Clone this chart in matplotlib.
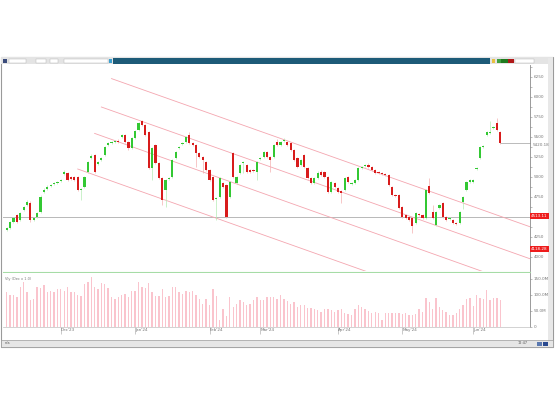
import matplotlib
matplotlib.use("Agg")
import matplotlib.pyplot as plt
from matplotlib.patches import Rectangle

# ---- daily candles (index order)
opens = [4338, 4362, 4438, 4525, 4462, 4588, 4650, 4675, 4462, 4500,
         4562, 4812, 4850, 4888, 4912, 4925, 4950, 5038, 5050, 5000,
         5000, 5000, 4838, 4875, 5062, 5238, 5275, 5162, 5212, 5275,
         5400, 5425, 5438, 5450, 5500, 5525, 5438, 5362, 5488, 5588,
         5700, 5650, 5562, 5112, 5400, 5175, 4988, 4838, 4975, 5000,
         5238, 5362, 5412, 5438, 5525, 5425, 5400, 5300, 5250, 5188,
         5088, 5000, 4725, 4750, 4925, 4900, 4750, 5300, 4925, 5050,
         5175, 5150, 5088, 5088, 5062, 5225, 5250, 5312, 5250, 5250,
         5438, 5400, 5450, 5438, 5425, 5338, 5238, 5150, 5275, 5112,
         4988, 4925, 4988, 5062, 5062, 5000, 4812, 4925, 4862, 4825,
         4838, 5000, 4912, 4925, 4962, 5112, 5138, 5150, 5125, 5088,
         5062, 5050, 5038, 5025, 4875, 4775, 4775, 4625, 4525, 4500,
         4488, 4425, 4538, 4525, 4488, 4888, 4562, 4400, 4612, 4675,
         4500, 4475, 4462, 4425, 4425, 4688, 4838, 4938, 4938, 5100,
         5238, 5375, 5525, 5550, 5612, 5675, 5562]
highs = [4380, 4450, 4500, 4540, 4565, 4640, 4712, 4700, 4500, 4562,
         4775, 4862, 4900, 4912, 4940, 4950, 4975, 5088, 5062, 5012,
         5012, 5012, 4862, 5012, 5200, 5288, 5288, 5200, 5250, 5388,
         5438, 5450, 5462, 5475, 5538, 5540, 5450, 5500, 5590, 5690,
         5712, 5662, 5575, 5375, 5412, 5188, 5000, 4975, 5000, 5225,
         5325, 5388, 5438, 5512, 5562, 5438, 5412, 5312, 5262, 5200,
         5100, 5012, 4750, 5000, 4938, 4912, 4950, 5312, 5012, 5162,
         5200, 5162, 5100, 5100, 5200, 5250, 5325, 5325, 5262, 5412,
         5475, 5450, 5488, 5450, 5438, 5350, 5250, 5225, 5288, 5125,
         5000, 5000, 5075, 5088, 5075, 5012, 4950, 4938, 4875, 4838,
         5000, 5012, 4938, 4975, 5125, 5138, 5162, 5175, 5138, 5100,
         5075, 5062, 5050, 5038, 4888, 4788, 4788, 4638, 4538, 4512,
         4500, 4562, 4550, 4538, 4850, 4988, 4650, 4575, 4662, 4688,
         4512, 4500, 4475, 4438, 4575, 4762, 4950, 4975, 4975, 5125,
         5388, 5400, 5575, 5700, 5638, 5738, 5575]
lows = [4320, 4350, 4425, 4425, 4450, 4575, 4640, 4438, 4450, 4488,
        4550, 4800, 4838, 4875, 4900, 4910, 4938, 5025, 4950, 4962,
        4950, 4825, 4712, 4862, 5050, 5225, 5050, 5150, 5200, 5262,
        5388, 5412, 5425, 5425, 5488, 5425, 5338, 5350, 5475, 5575,
        5638, 5512, 5100, 4962, 5162, 4975, 4650, 4625, 4962, 4988,
        5225, 5350, 5400, 5425, 5412, 5388, 5125, 5238, 5050, 5075,
        4950, 4700, 4462, 4738, 4862, 4488, 4738, 4988, 4912, 5038,
        5050, 5050, 5050, 5062, 4962, 5212, 5238, 5238, 5062, 5238,
        5388, 5388, 5438, 5388, 5325, 5200, 5112, 5138, 5112, 4975,
        4912, 4912, 4975, 5012, 4988, 4800, 4800, 4862, 4800, 4675,
        4825, 4925, 4900, 4912, 4950, 5100, 5125, 5112, 5075, 5038,
        5038, 5025, 5012, 4888, 4762, 4750, 4600, 4488, 4475, 4450,
        4300, 4412, 4512, 4475, 4475, 4788, 4475, 4388, 4600, 4488,
        4450, 4462, 4412, 4400, 4412, 4600, 4825, 4925, 4925, 5088,
        5225, 5362, 5512, 5538, 5600, 5575, 5412]
closes = [4362, 4438, 4488, 4438, 4550, 4625, 4688, 4462, 4488, 4550,
          4750, 4838, 4875, 4900, 4925, 4938, 4962, 5062, 4962, 4975,
          4962, 4838, 4850, 5000, 5188, 5262, 5062, 5188, 5238, 5375,
          5425, 5438, 5450, 5438, 5525, 5438, 5362, 5488, 5575, 5675,
          5650, 5525, 5112, 5362, 5175, 4988, 4712, 4962, 4988, 5212,
          5312, 5375, 5425, 5500, 5425, 5400, 5300, 5250, 5212, 5088,
          4962, 4712, 4738, 4988, 4875, 4500, 4938, 5000, 5000, 5150,
          5188, 5062, 5062, 5075, 5188, 5238, 5312, 5250, 5212, 5400,
          5400, 5438, 5462, 5400, 5338, 5212, 5125, 5212, 5125, 4988,
          4925, 4988, 5050, 5025, 5000, 4812, 4938, 4875, 4812, 4800,
          4988, 4938, 4925, 4962, 5112, 5125, 5150, 5125, 5088, 5050,
          5050, 5038, 5025, 4900, 4775, 4762, 4612, 4500, 4488, 4462,
          4388, 4550, 4525, 4488, 4838, 4800, 4488, 4562, 4650, 4500,
          4462, 4488, 4425, 4412, 4562, 4750, 4938, 4962, 4962, 5112,
          5375, 5388, 5562, 5562, 5625, 5588, 5420]
volume = [109, 101, 101, 94, 125, 140, 109, 83, 88, 125,
          122, 132, 109, 114, 109, 120, 118, 111, 125, 109,
          109, 99, 97, 135, 140, 156, 125, 120, 138, 135,
          122, 94, 88, 94, 101, 104, 94, 114, 114, 142,
          125, 122, 138, 109, 97, 97, 118, 94, 97, 124,
          124, 109, 104, 114, 109, 114, 99, 88, 73, 88,
          68, 118, 97, 21, 55, 34, 94, 62, 73, 83,
          78, 70, 73, 83, 94, 83, 83, 94, 94, 94,
          88, 99, 86, 80, 73, 78, 62, 70, 70, 59,
          59, 57, 54, 47, 55, 55, 54, 47, 52, 57,
          45, 42, 38, 55, 68, 62, 57, 49, 45, 47,
          45, 21, 45, 45, 45, 45, 45, 42, 45, 38,
          36, 42, 57, 47, 90, 78, 57, 90, 62, 52,
          47, 38, 38, 45, 55, 70, 88, 90, 66, 101,
          90, 88, 116, 83, 90, 90, 83]

# channel lines: (start index, start price, end index, end price)
channel_lines = [(31, 6230, 156, 4360),
                 (28, 5875, 156, 3960),
                 (26, 5545, 156, 3590),
                 (21, 5100, 156, 3075)]
support_level = 4500
last_label = "5420.18"
red_labels = [(4513, "4513.11"), (4100, "4118.28")]

price_ticks = [4000, 4250, 4500, 4750, 5000, 5250, 5500, 5750, 6000, 6250]
price_tick_labels = ["4000", "4250", "", "4750", "5000", "5250", "5500", "5750", "6000", "6250"]
vol_ticks = [0, 50, 100, 150]
vol_tick_labels = ["0", "50.0M", "100.0M", "150.0M"]
date_pos = [16, 38, 60, 75, 98, 117, 138]
date_labels = ["Dec'23", "Jan'24", "Feb'24", "Mar'24", "Apr'24", "May'24", "Jun'24"]

W, H = 555, 400
fig = plt.figure(figsize=(W / 100, H / 100), dpi=100)
fig.patch.set_facecolor("white")


def box(x0, y0, x1, y1):
    # pixel box (top-left origin) -> figure fraction rect
    return [x0 / W, 1 - y1 / H, (x1 - x0) / W, (y1 - y0) / H]


# ---- window chrome
bg = fig.add_axes([0, 0, 1, 1])
bg.set_xlim(0, W)
bg.set_ylim(H, 0)
bg.axis("off")
bg.add_patch(Rectangle((1, 57), 552, 290, fc="white", ec="#9a9a9a", lw=0.8))
bg.add_patch(Rectangle((1, 57), 552, 7, fc="#e4e4e4", ec="none"))
bg.add_patch(Rectangle((113, 58), 377, 5.5, fc="#1d5b78", ec="none"))
bg.add_patch(Rectangle((3, 58.5), 4, 4, fc="#3a4a7a", ec="none"))
bg.add_patch(Rectangle((9, 58.5), 17, 4, fc="white", ec="#b0b0b0", lw=0.3))
bg.add_patch(Rectangle((36, 58.5), 10, 4, fc="white", ec="#b0b0b0", lw=0.3))
bg.add_patch(Rectangle((50, 58.5), 8, 4, fc="white", ec="#b0b0b0", lw=0.3))
bg.add_patch(Rectangle((64, 58.5), 44, 4, fc="white", ec="#b0b0b0", lw=0.3))
bg.add_patch(Rectangle((109, 58.5), 3, 4, fc="#3aa0d0", ec="none"))
bg.add_patch(Rectangle((492, 58.5), 3, 4, fc="#e8c040", ec="none"))
bg.add_patch(Rectangle((497, 58.5), 4, 4, fc="#40a040", ec="none"))
bg.add_patch(Rectangle((501, 58.5), 7, 4, fc="#1f7a1f", ec="none"))
bg.add_patch(Rectangle((508, 58.5), 6, 4, fc="#b01818", ec="none"))
bg.add_patch(Rectangle((515, 58.5), 19, 4, fc="white", ec="#b0b0b0", lw=0.3))
bg.add_patch(Rectangle((548, 58), 5, 289, fc="#e8e8e8", ec="none"))
bg.add_patch(Rectangle((1, 340), 552, 7, fc="#e6e6e6", ec="#9a9a9a", lw=0.5))
bg.text(5, 343.5, "n/a", fontsize=2.5, color="#555555", va="center")
bg.text(518, 343.5, "12:47", fontsize=2.5, color="#555555", va="center")
bg.add_patch(Rectangle((537, 341.5), 5, 4, fc="#5a78b0", ec="none"))
bg.add_patch(Rectangle((543, 341.5), 5, 4, fc="#2a4a90", ec="none"))

x = list(range(len(closes)))
xmin, xmax = -1.1, 154.8

# ---- price panel
ax = fig.add_axes(box(3, 65, 530, 271))
ax.set_xlim(xmin, xmax)
ax.set_ylim(3825, 6400)
for s in ax.spines.values():
    s.set_visible(False)
ax.spines["right"].set_visible(True)
ax.spines["right"].set_color("#8a8a8a")
ax.spines["right"].set_linewidth(0.6)
ax.tick_params(axis="x", bottom=False, labelbottom=False)
ax.yaxis.tick_right()
ax.set_yticks(price_ticks)
ax.set_yticklabels(price_tick_labels)
ax.set_yticks([t + 125 for t in price_ticks], minor=True)
ax.tick_params(axis="y", which="both", length=1.5, width=0.4, color="#8a8a8a",
               labelsize=3, labelcolor="#777777", pad=1)

ax.axhline(support_level, color="#b8b8b8", lw=0.7, zorder=1)
for x0, p0, x1, p1 in channel_lines:
    ax.plot([x0, x1], [p0, p1], color="#f4a6b0", lw=0.6, zorder=1)

for i in x:
    up = closes[i] >= opens[i]
    body = "#33c833" if up else "#d81c1c"
    wick = "#b5ecb5" if up else "#f4b0b0"
    ax.vlines(i, lows[i], highs[i], color=wick, lw=0.5, zorder=2)
    lo = min(opens[i], closes[i])
    hgt = max(abs(closes[i] - opens[i]), 12)
    ax.bar(i, hgt, bottom=lo, width=0.65, color=body, lw=0, zorder=3)

ax.plot([x[-1], xmax], [closes[-1], closes[-1]], color="#b0b0b0", lw=0.6,
        clip_on=False, zorder=1)
ax.text(xmax + 0.8, closes[-1] - 25, last_label, fontsize=3, color="#777777",
        va="center", ha="left", clip_on=False)
for p, lab in red_labels:
    ax.text(xmax + 0.3, p, lab, fontsize=3, color="white", va="center",
            ha="left", clip_on=False,
            bbox=dict(boxstyle="square,pad=0.35", fc="#ee1c1c", ec="none"))

# ---- separator
bg.plot([3, 530], [272, 272], color="#a6dca6", lw=0.8)

# ---- volume panel
axv = fig.add_axes(box(3, 273, 530, 327))
axv.set_xlim(xmin, xmax)
axv.set_ylim(0, 168.75)
for s in axv.spines.values():
    s.set_visible(False)
axv.spines["right"].set_visible(True)
axv.spines["right"].set_color("#8a8a8a")
axv.spines["right"].set_linewidth(0.6)
axv.spines["bottom"].set_visible(True)
axv.spines["bottom"].set_color("#c0c0c0")
axv.spines["bottom"].set_linewidth(0.5)
axv.bar(x, volume, width=0.4, color="#fac4cd", lw=0)
axv.yaxis.tick_right()
axv.set_yticks(vol_ticks)
axv.set_yticklabels(vol_tick_labels)
axv.tick_params(axis="y", length=1.5, width=0.4, color="#8a8a8a",
                labelsize=3, labelcolor="#777777", pad=1)
axv.set_xticks(date_pos)
axv.set_xticklabels(date_labels)
axv.tick_params(axis="x", length=5, width=0.4, color="#a0a0a0", direction="out",
                labelsize=3, labelcolor="#777777", pad=-4)
for lab in axv.get_xticklabels():
    lab.set_horizontalalignment("left")
axv.text(0.004, 0.93, "Vly (Dec x 1.0)", transform=axv.transAxes, fontsize=2.5,
         color="#777777", va="top")

fig.savefig("out.png", dpi=100)
